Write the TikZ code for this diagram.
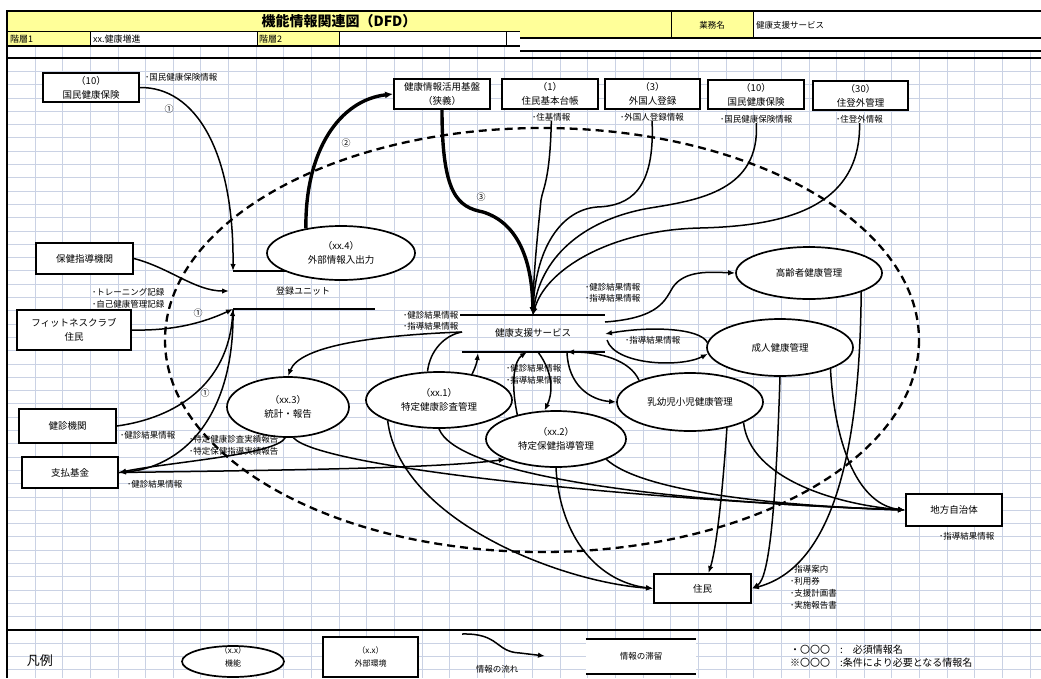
\documentclass[tikz,border=0pt]{standalone}
\usepackage{fontspec}
\setmainfont{Noto Sans CJK JP}
\usetikzlibrary{shapes.geometric,arrows.meta}
\definecolor{gridc}{RGB}{202,210,228}
\definecolor{hy}{RGB}{255,255,153}
\begin{document}
\begin{tikzpicture}[x=1pt,y=-1pt,
  box/.style={draw,line width=1.9pt,fill=white,align=center,inner sep=0pt,font=\fontsize{9.5}{14}\selectfont},
  func/.style={ellipse,draw,line width=1.7pt,fill=white,align=center,inner sep=0pt,font=\fontsize{9.5}{14}\selectfont},
  lbl/.style={anchor=west,inner sep=0pt,font=\fontsize{8.5}{11.5}\selectfont,align=left},
  hdr/.style={anchor=west,inner sep=0pt,font=\fontsize{9}{10}\selectfont},
  num/.style={inner sep=0pt,font=\fontsize{9}{10}\selectfont},
  flow/.style={line width=1.5pt,-{Latex[length=7pt,width=5.5pt]}},
  bigflow/.style={line width=3.4pt,-{Latex[length=8pt,width=7pt]}},
  plain/.style={line width=1.5pt},
  store/.style={line width=2pt},
]
\useasboundingbox (0,0) rectangle (1041,678);
\fill[white] (0,0) rectangle (1041,678);
% grid
\foreach \k in {1,...,37} { \draw[gridc,line width=0.8pt] ({7.36+27.64*\k},45) -- ({7.36+27.64*\k},678); }
\foreach \k in {1,...,46} { \draw[gridc,line width=0.8pt] (7.36,{58+13.3*\k}) -- (1041,{58+13.3*\k}); }
% header
\fill[hy] (7.36,11) rectangle (520,31.5);
\fill[hy] (520,11) rectangle (753,37.7);
\fill[white] (753,11) rectangle (1041,37.7);
\fill[white] (520,37.7) rectangle (1041,51);
\fill[hy] (7.36,31.5) rectangle (90,45.7);
\fill[white] (90,31.5) rectangle (257,45.7);
\fill[hy] (257,31.5) rectangle (339,45.7);
\fill[white] (339,31.5) rectangle (520,45.7);
\draw[line width=2pt] (7.36,11) -- (1041,11);
\draw[line width=0.8pt] (7.36,31.5) -- (520,31.5);
\draw[line width=2pt] (7.36,45.7) -- (520,45.7);
\draw[line width=2pt] (520,37.7) -- (1041,37.7);
\draw[line width=2pt] (520,51) -- (1041,51);
\draw[line width=2pt] (7.36,58) -- (1041,58);
\draw[line width=2pt] (7.36,630) -- (1041,630);
\draw[line width=2pt] (7.36,10) -- (7.36,678);
\foreach \xx in {90,257,339,506} { \draw[line width=0.8pt] (\xx,31.5) -- (\xx,45.7); }
\draw[line width=0.9pt] (671,11) -- (671,37.7);
\draw[line width=0.9pt] (753,11) -- (753,37.7);
\node[inner sep=0pt,font=\bfseries\fontsize{14}{16}\selectfont] (title) at (339,21.5) {機能情報関連図（DFD）};
\node[inner sep=0pt,font=\fontsize{8.5}{10}\selectfont] (gyomu) at (712,25) {業務名};
\node[hdr,font=\fontsize{8.5}{10}\selectfont] (gyomuname) at (756,25) {健康支援サービス};
\node[hdr] (kaiso1) at (10,39.5) {階層1};
\node[hdr] (kenko) at (93,39.5) {xx.健康増進};
\node[hdr] (kaiso2) at (259,39.5) {階層2};

% big dashed boundary
\draw[line width=2.3pt,dash pattern=on 8pt off 5pt] (542,340) ellipse [x radius=377,y radius=212];

% data stores
\coordinate (tuTL) at (233,271); \coordinate (tuTR) at (300,271);
\coordinate (tuB) at (233,309); \coordinate (tuBR) at (375,309);
\coordinate (tuM) at (229,291);
\draw[store] (tuTL) -- (tuTR);
\draw[store] (tuB) -- (tuBR);
\node[inner sep=0pt,font=\fontsize{9}{10}\selectfont] (touroku) at (303,291) {登録ユニット};
\coordinate (ksTL) at (460,315); \coordinate (ksTR) at (605,315);
\coordinate (ksBL) at (462,352); \coordinate (ksBR) at (605,352);
\draw[store] (ksTL) -- (ksTR);
\draw[store] (ksBL) -- (ksBR);
\node[inner sep=0pt,font=\fontsize{9.5}{10}\selectfont] (ks) at (533,333) {健康支援サービス};
\coordinate (ksT) at (533,315);
\coordinate (ksR1) at (605,322);
\coordinate (ksR2) at (605,334);
\coordinate (ksR3) at (607,340);
\coordinate (ksB1) at (567,352);
\coordinate (ksB2) at (538,352);
\coordinate (ksB3) at (527,352);
\coordinate (ksB4) at (478,353);
\coordinate (ksL) at (462,332);

% external entities
\node[box,minimum width=96pt,minimum height=29pt] (nhiL) at (91,87.5) {（10）\\国民健康保険};
\node[box,minimum width=97pt,minimum height=31pt] (hoken) at (84.5,258.5) {保健指導機関};
\node[box,minimum width=114pt,minimum height=40pt] (fit) at (74,330) {フィットネスクラブ\\住民};
\node[box,minimum width=97pt,minimum height=34pt] (kenshin) at (67.5,426) {健診機関};
\node[box,minimum width=96pt,minimum height=31pt] (shiharai) at (70,472.5) {支払基金};
\node[box,minimum width=96pt,minimum height=30pt] (kiban) at (442,94) {健康情報活用基盤\\（狭義）};
\node[box,minimum width=96pt,minimum height=30pt] (jukiban) at (550,94) {（1）\\住民基本台帳};
\node[box,minimum width=95pt,minimum height=30pt] (gaikoku) at (652.5,94) {（3）\\外国人登録};
\node[box,minimum width=96pt,minimum height=29pt] (nhiR) at (756,94.5) {（10）\\国民健康保険};
\node[box,minimum width=95pt,minimum height=29pt] (jutogai) at (860.5,95.5) {（30）\\住登外管理};
\node[box,minimum width=96pt,minimum height=32pt] (chiho) at (954,510) {地方自治体};
\node[box,minimum width=97pt,minimum height=29pt] (jumin) at (702.5,588.5) {住民};

% functions
\node[func,minimum width=148pt,minimum height=54pt] (gaibu) at (341,253) {（xx.4）\\外部情報入出力};
\node[func,minimum width=122pt,minimum height=60pt] (toukei) at (288,407) {（xx.3）\\統計・報告};
\node[func,minimum width=146pt,minimum height=56pt] (tokukenshin) at (439,400) {（xx.1）\\特定健康診査管理};
\node[func,minimum width=140pt,minimum height=56pt] (tokuhoken) at (556,439) {（xx.2）\\特定保健指導管理};
\node[func,minimum width=146pt,minimum height=58pt] (nyuyo) at (690,402) {乳幼児小児健康管理};
\node[func,minimum width=146pt,minimum height=57pt] (seijin) at (780,347.5) {成人健康管理};
\node[func,minimum width=146pt,minimum height=52pt] (koureisha) at (809,273) {高齢者健康管理};

% labels
\node[lbl] (lbnhiL) at (145,77) {･国民健康保険情報};
\node[lbl] (lbtrain) at (92,292) {･トレーニング記録};
\node[lbl] (lbjiko) at (92,304) {･自己健康管理記録};
\node[lbl] (lbkenshin) at (120,435) {･健診結果情報};
\node[lbl] (lbshiharai) at (127,484) {･健診結果情報};
\node[lbl] (lbtk1) at (189,439) {･特定健康診査実績報告};
\node[lbl] (lbtk2) at (189,451) {･特定保健指導実績報告};
\node[lbl] (lbjuki) at (532,117) {･住基情報};
\node[lbl] (lbgai) at (620,117) {･外国人登録情報};
\node[lbl] (lbnhiR) at (720,119) {･国民健康保険情報};
\node[lbl] (lbjuto) at (836,119) {･住登外情報};
\node[lbl] (lbksl1) at (403,315) {･健診結果情報};
\node[lbl] (lbksl2) at (403,326) {･指導結果情報};
\node[lbl] (lbksr1) at (585,287) {･健診結果情報};
\node[lbl] (lbksr2) at (585,298) {･指導結果情報};
\node[lbl] (lbksb1) at (506,368) {･健診結果情報};
\node[lbl] (lbksb2) at (506,380) {･指導結果情報};
\node[lbl] (lbseijin) at (625,340) {･指導結果情報};
\node[lbl] (lbchiho) at (939,536) {･指導結果情報};
\node[lbl] (lbjumin1) at (790,569) {･指導案内};
\node[lbl] (lbjumin2) at (790,581) {･利用券};
\node[lbl] (lbjumin3) at (790,593) {･支援計画書};
\node[lbl] (lbjumin4) at (790,605) {･実施報告書};
\node[num] (n1a) at (169,109) {①};
\node[num] (n1b) at (198,313) {①};
\node[num] (n1c) at (205,393) {①};
\node[num] (n2) at (346,143) {②};
\node[num] (n3) at (481,197) {③};

% left side flows
\draw[flow] (nhiL.east) .. controls (195,87) and (234,150) .. (tuTL);
\draw[flow] (hoken.east) .. controls (170,268) and (195,291) .. (tuM);
\draw[flow] (fit.east) .. controls (175,331) and (205,322) .. (tuB);
\draw[flow] (kenshin.east) .. controls (175,418) and (228,385) .. (tuB);
\draw[flow] (tuB) .. controls (235,420) and (180,468) .. (shiharai.east);
\draw[flow] (toukei.-95) .. controls (275,455) and (170,462) .. (shiharai.east);
\draw[flow] (shiharai.east) .. controls (300,470) and (440,468) .. (tokuhoken.-158);
\draw[bigflow] (gaibu.145) .. controls (305,150) and (340,100) .. (kiban.west);

% flows to chiho
\draw[flow] (toukei.-80) .. controls (320,468) and (640,500) .. (chiho.west);
\draw[flow] (tokukenshin.south) .. controls (455,470) and (620,500) .. (chiho.west);
\draw[flow] (tokuhoken.-22) .. controls (640,490) and (760,505) .. (chiho.west);
\draw[flow] (nyuyo.-21) .. controls (750,480) and (840,505) .. (chiho.west);
\draw[flow] (seijin.-23) .. controls (835,450) and (860,505) .. (chiho.west);

% flows to jumin
\draw[flow] (tokukenshin.-158) .. controls (400,520) and (560,582) .. (jumin.west);
\draw[flow] (tokuhoken.south) .. controls (560,540) and (600,582) .. (jumin.west);
\draw[flow] (nyuyo.-35) .. controls (722,500) and (716,550) .. ([xshift=6pt]jumin.north);
\draw[flow] (seijin.south) .. controls (776,500) and (770,578) .. (jumin.east);
\draw[flow] (koureisha.-20) .. controls (860,430) and (840,565) .. (jumin.east);

% flows into the service store
\draw[bigflow] (kiban.south) .. controls (442,195) and (458,207) .. (483,212) .. controls (515,222) and (532,255) .. (ksT);
\draw[flow] (lbjuki.south) .. controls (550,180) and (543,188) .. (541,200) .. controls (537,240) and (533,280) .. (ksT);
\draw[flow] (lbgai.south) .. controls (655,190) and (630,206) .. (597,207) .. controls (560,210) and (535,250) .. (ksT);
\draw[flow] (lbnhiR.south) .. controls (760,190) and (700,200) .. (650,208) .. controls (580,220) and (540,260) .. (ksT);
\draw[flow] (lbjuto.south) .. controls (861,210) and (780,226) .. (700,228) .. controls (610,230) and (545,270) .. (ksT);

% service store exchanges
\draw[flow] (ksR1) .. controls (660,318) and (665,300) .. (673,287) .. controls (685,270) and (710,272) .. (koureisha.west);
\draw[flow] (seijin.176) .. controls (700,328) and (650,326) .. (ksR2);
\draw[flow] (ksR3) .. controls (615,365) and (680,368) .. (seijin.185);
\draw[flow] (nyuyo.157) .. controls (630,360) and (600,352) .. (ksB1);
\draw[flow] (ksB1) .. controls (568,385) and (590,400) .. (nyuyo.west);
\draw[flow] (ksB2) .. controls (555,375) and (552,395) .. (tokuhoken.112);
\draw[flow] (tokuhoken.148) .. controls (510,380) and (515,360) .. (ksB3);
\draw[flow] (tokukenshin.38) .. controls (476,366) and (477,362) .. (ksB4);
\draw[plain] (tokukenshin.112) .. controls (430,350) and (445,335) .. (ksL);
\draw[flow] (ksL) .. controls (380,335) and (300,345) .. (toukei.north);

% legend
\node[inner sep=0pt,font=\fontsize{13}{15}\selectfont] (hanrei) at (40,661) {凡例};
\node[func,minimum width=102pt,minimum height=31pt] (lgfunc) at (233,661.5) {};
\node[inner sep=0pt,align=center,font=\fontsize{8}{13.5}\selectfont] (lgfunctxt) at (233,657) {（x.x）\\機能};
\node[box,minimum width=95pt,minimum height=40pt,font=\fontsize{8}{13.5}\selectfont] (lgbox) at (370.5,657) {（x.x）\\外部環境};
\coordinate (lgf1) at (462,634);
\coordinate (lgf2) at (545,656);
\draw[flow] (lgf1) .. controls (500,633) and (495,652) .. (520,653) -- (lgf2);
\node[inner sep=0pt,font=\fontsize{8.5}{10}\selectfont] (lgflowtxt) at (497,669) {情報の流れ};
\node[fill=white,inner sep=0pt,minimum width=110pt,minimum height=35pt,font=\fontsize{8.5}{10}\selectfont] (lgstore) at (641,656.5) {情報の滞留};
\draw[store] (lgstore.north west) -- (lgstore.north east);
\draw[store] (lgstore.south west) -- (lgstore.south east);
\node[anchor=west,inner sep=0pt,font=\fontsize{10}{13}\selectfont] (lgnote1) at (790,649.5) {・〇〇〇　:　必須情報名};
\node[anchor=west,inner sep=0pt,font=\fontsize{10}{13}\selectfont] (lgnote2) at (790,663) {※〇〇〇　:条件により必要となる情報名};
\end{tikzpicture}
\end{document}
